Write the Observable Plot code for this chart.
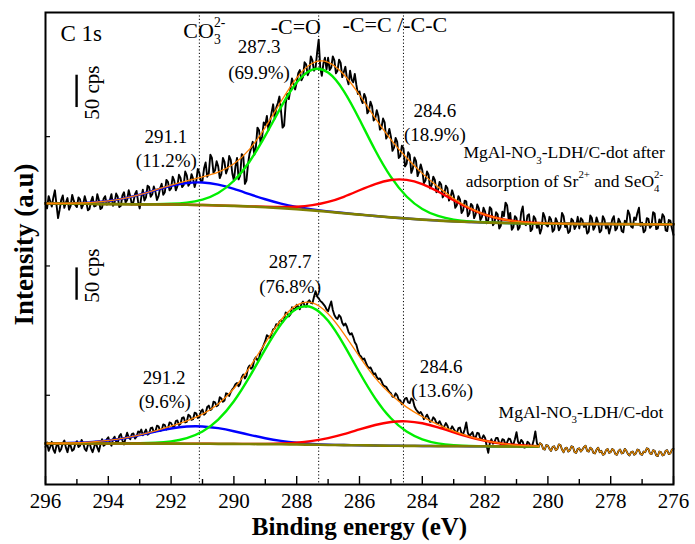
<!DOCTYPE html>
<html>
<head>
<meta charset="utf-8">
<script src="https://cdn.jsdelivr.net/npm/d3@7"></script>
<script src="https://cdn.jsdelivr.net/npm/@observablehq/plot@0.6"></script>
<style>
  html, body { margin: 0; padding: 0; background: #fff; }
  #chart { width: 695px; height: 544px; }
  #chart svg, #chart svg text { font-family: "Liberation Serif", "Times New Roman", Times, serif !important; }
</style>
</head>
<body>
<div id="chart"></div>
<script>
// C 1s XPS spectra of MgAl-NO3-LDH/C-dot, before (lower) and after (upper)
// adsorption of Sr2+ and SeO4 2-, with their peak fits.

// Raw counts sampled every 0.05 eV from 296.00 eV down to 276.00 eV (one row = 1 eV).
const rawStart = 296.0;
const rawStep = 0.05;

const upperCounts = [
  436, 427, 446, 438, 430, 444, 455, 433, 412, 425, 440, 447, 428, 436, 443, 425, 431, 448, 439, 432,
  429, 444, 441, 427, 433, 446, 437, 424, 426, 438, 445, 430, 431, 449, 440, 426, 428, 442, 446, 433,
  434, 440, 449, 431, 436, 450, 445, 429, 431, 447, 452, 436, 440, 455, 446, 433, 437, 449, 454, 437,
  427, 444, 456, 439, 444, 462, 460, 445, 449, 461, 453, 440, 446, 458, 465, 448, 452, 471, 468, 455,
  458, 476, 470, 455, 461, 479, 474, 460, 463, 484, 478, 462, 466, 480, 473, 460, 469, 488, 482, 468,
  470, 489, 498, 476, 481, 510, 505, 482, 486, 500, 492, 474, 480, 505, 499, 481, 488, 508, 502, 481,
  470, 492, 505, 472, 478, 511, 508, 465, 470, 496, 512, 520, 530, 510, 522, 552, 548, 528, 538, 560,
  556, 570, 548, 561, 575, 588, 566, 583, 590, 600, 578, 552, 555, 589, 604, 596, 612, 628, 620, 611,
  622, 636, 641, 625, 630, 653, 650, 633, 639, 662, 656, 640, 644, 668, 688, 645, 632, 651, 660, 642,
  660, 641, 645, 662, 656, 636, 640, 657, 652, 630, 638, 646, 628, 619, 640, 626, 622, 635, 618, 604,
  608, 596, 590, 604, 598, 574, 578, 592, 585, 563, 566, 579, 570, 549, 552, 566, 560, 535, 540, 550,
  538, 516, 521, 536, 530, 505, 508, 524, 520, 492, 496, 514, 510, 482, 489, 506, 500, 477, 484, 495,
  486, 466, 470, 484, 479, 458, 463, 476, 471, 452, 455, 468, 464, 444, 449, 462, 458, 439, 444, 455,
  447, 428, 432, 446, 441, 420, 424, 439, 438, 415, 419, 434, 431, 412, 418, 433, 427, 409, 414, 428,
  422, 404, 409, 429, 426, 401, 405, 421, 418, 396, 400, 422, 415, 436, 432, 410, 420, 394, 398, 415,
  412, 394, 398, 421, 430, 404, 401, 416, 418, 392, 395, 415, 411, 397, 403, 388, 396, 420, 414, 401,
  399, 414, 410, 391, 394, 412, 406, 393, 398, 420, 415, 398, 401, 389, 392, 411, 408, 395, 400, 414,
  396, 412, 409, 398, 403, 388, 391, 416, 412, 394, 399, 413, 405, 390, 393, 415, 410, 396, 402, 388,
  398, 410, 415, 393, 396, 411, 406, 392, 390, 408, 404, 424, 418, 399, 397, 413, 409, 420, 428, 400,
  405, 390, 393, 412, 411, 397, 400, 421, 419, 395, 396, 410, 403, 418, 414, 393, 392, 409, 408, 396,
  386
];

const lowerCounts = [
  58, 65, 52, 58, 66, 54, 49, 60, 62, 51, 55, 64, 68, 57, 50, 61, 60, 52, 54, 63,
  67, 58, 60, 69, 64, 55, 52, 61, 65, 56, 50, 58, 66, 57, 51, 62, 70, 60, 62, 70,
  73, 65, 60, 70, 74, 66, 64, 75, 78, 68, 62, 72, 80, 73, 70, 78, 79, 71, 74, 82,
  80, 85, 76, 80, 85, 77, 79, 87, 88, 81, 82, 91, 90, 83, 84, 93, 92, 85, 87, 96,
  95, 90, 89, 98, 99, 92, 94, 103, 104, 96, 97, 108, 106, 100, 101, 111, 110, 103, 104, 113,
  116, 108, 110, 120, 122, 115, 117, 128, 127, 121, 123, 135, 133, 128, 130, 141, 140, 137, 143, 147,
  150, 155, 157, 152, 156, 166, 170, 164, 168, 180, 184, 179, 182, 193, 197, 192, 195, 206, 210, 216,
  222, 231, 229, 227, 233, 240, 241, 248, 246, 252, 254, 251, 256, 266, 265, 260, 263, 274, 272, 270,
  278, 275, 271, 279, 283, 277, 275, 282, 285, 281, 280, 290, 299, 291, 288, 284, 282, 279, 276, 271,
  268, 276, 283, 270, 262, 258, 256, 262, 259, 250, 246, 249, 244, 236, 232, 234, 228, 220, 216, 207,
  200, 198, 193, 195, 189, 183, 180, 181, 176, 170, 172, 166, 163, 164, 160, 154, 152, 151, 147, 143,
  141, 136, 135, 141, 138, 131, 130, 124, 127, 133, 134, 127, 126, 133, 131, 121, 116, 113, 110, 112,
  108, 101, 104, 108, 103, 97, 98, 104, 101, 95, 94, 98, 93, 87, 90, 95, 91, 84, 85, 90,
  86, 82, 80, 87, 88, 79, 78, 85, 96, 80, 75, 78, 81, 72, 73, 80, 79, 70, 71, 76,
  72, 60, 49, 64, 70, 63, 66, 72, 72, 64, 63, 70, 69, 61, 65, 71, 70, 63, 62, 70,
  81, 66, 62, 69, 66, 57, 58, 66, 64, 58, 60, 69, 82, 64, 58, 64, 62, 55, 54, 61,
  60, 55, 52, 58, 59, 53, 55, 62, 61, 54, 50, 56, 57, 51, 53, 59, 58, 50, 49, 55,
  56, 51, 54, 58, 60, 52, 51, 57, 55, 49, 48, 54, 57, 50, 52, 46, 47, 53, 55, 49,
  50, 55, 53, 47, 46, 52, 54, 48, 49, 55, 52, 47, 45, 50, 51, 46, 48, 54, 53, 47,
  46, 51, 50, 56, 55, 48, 47, 53, 52, 45, 44, 51, 50, 45, 46, 52, 53, 47, 48, 54,
  55
];

// Fitted curves, sampled every 0.5 eV.
const fitEnergy = [
  296, 295.5, 295, 294.5, 294, 293.5, 293, 292.5, 292, 291.5,
  291, 290.5, 290, 289.5, 289, 288.5, 288, 287.5, 287, 286.5,
  286, 285.5, 285, 284.5, 284, 283.5, 283, 282.5, 282, 281.5,
  281, 280.5, 280, 279.5, 279, 278.5, 278, 277.5, 277, 276.5,
  276
];
const upperBackground = [
  434.6, 434.4, 434.2, 434.0, 433.8, 433.6, 433.4, 433.2, 433.0, 432.6,
  432.2, 431.6, 430.9, 430.0, 428.9, 427.5, 425.8, 423.9, 421.8, 419.6,
  417.4, 415.2, 413.2, 411.3, 409.6, 408.2, 407.0, 406.0, 405.2, 404.6,
  404.1, 403.7, 403.4, 403.2, 403.0, 402.9, 402.8, 402.7, 402.6, 402.5,
  402.4
];
// peak contributions above the background
const upperCO3 = [
  0.1, 0.4, 0.9, 2.2, 4.7, 8.9, 14.8, 22.0, 28.9, 33.7,
  34.9, 32.1, 26.2, 19.0, 12.3, 7.0, 3.6, 1.6, 0.6, 0.2,
  0.1, 0, 0, 0, 0, 0, 0, 0, 0, 0,
  0, 0, 0, 0, 0, 0, 0, 0, 0, 0,
  0
];
const upperCO = [
  0, 0, 0, 0, 0, 0, 0.1, 0.4, 1.1, 3.3,
  8.5, 19.3, 38.9, 69.6, 110.6, 156.2, 195.8, 217.9, 215.3, 188.9,
  147.2, 101.8, 62.5, 34.1, 16.5, 7.1, 2.7, 0.9, 0.3, 0.1,
  0, 0, 0, 0, 0, 0, 0, 0, 0, 0,
  0
];
const upperCC = [
  0, 0, 0, 0, 0, 0, 0, 0, 0, 0,
  0, 0, 0.1, 0.2, 0.6, 1.6, 3.8, 8.1, 15.3, 25.4,
  37.7, 49.5, 57.8, 59.9, 55.1, 45.0, 32.6, 21.0, 12.0, 6.1,
  2.8, 1.1, 0.4, 0.1, 0, 0, 0, 0, 0, 0,
  0
];

const lowerFitEnergy = [
  296, 295.5, 295, 294.5, 294, 293.5, 293, 292.5, 292, 291.5,
  291, 290.5, 290, 289.5, 289, 288.5, 288, 287.5, 287, 286.5,
  286, 285.5, 285, 284.5, 284, 283.5, 283, 282.5, 282, 281.5,
  281, 280.5, 280.3
];
const lowerBackground = [
  63.4, 63.4, 63.4, 63.4, 63.4, 63.3, 63.3, 63.2, 63.2, 63.1,
  63.0, 62.9, 62.8, 62.6, 62.4, 62.2, 61.9, 61.6, 61.2, 60.9,
  60.6, 60.3, 60.0, 59.8, 59.6, 59.4, 59.3, 59.2, 59.1, 59.0,
  58.9, 58.8, 58.8
];
const lowerCO3 = [
  0.2, 0.4, 1.1, 2.4, 4.7, 8.3, 13.1, 18.6, 23.4, 26.5,
  26.8, 24.2, 19.6, 14.2, 9.2, 5.3, 2.8, 1.3, 0.5, 0.2,
  0.1, 0, 0, 0, 0, 0, 0, 0, 0, 0,
  0, 0, 0
];
const lowerCO = [
  0, 0, 0, 0, 0, 0.1, 0.4, 1.3, 3.5, 8.7,
  19.0, 37.5, 66.0, 104.2, 147.0, 185.6, 209.8, 212.1, 191.9, 155.4,
  112.6, 73.0, 42.4, 22.0, 10.2, 4.2, 1.6, 0.5, 0.2, 0,
  0, 0, 0
];
const lowerCC = [
  0, 0, 0, 0, 0, 0, 0, 0, 0, 0,
  0, 0, 0.1, 0.2, 0.5, 1.3, 2.9, 5.9, 10.6, 17.0,
  24.6, 31.7, 36.7, 37.9, 35.1, 29.0, 21.5, 14.3, 8.5, 4.5,
  2.1, 0.9, 0.6
];

const peakPositions = [291.1, 287.3, 284.6];
const xTicks = [296, 294, 292, 290, 288, 286, 284, 282, 280, 278, 276];
const xMinorTicks = [295, 293, 291, 289, 287, 285, 283, 281, 279, 277];
const yTicks = [138, 338, 538];
const scaleBarCps = 50;

// ---- tables ----
const energyAt = (i) => Math.round((rawStart - i * rawStep) * 100) / 100;
const upperRaw = upperCounts.map((c, i) => ({e: energyAt(i), c}));
const lowerRaw = lowerCounts.map((c, i) => ({e: energyAt(i), c}));
const fitWindowEnd = lowerFitEnergy[lowerFitEnergy.length - 1];
const lowerOutside = lowerRaw.filter((d) => d.e <= fitWindowEnd + 1e-9);

const onBackground = (energy, bg, peak) => energy.map((e, i) => ({e, v: bg[i] + peak[i]}));
const envelope = (energy, bg, peaks) =>
  energy.map((e, i) => ({e, v: bg[i] + peaks.reduce((s, p) => s + p[i], 0)}));

const upper = {
  bg: onBackground(fitEnergy, upperBackground, fitEnergy.map(() => 0)),
  co3: onBackground(fitEnergy, upperBackground, upperCO3),
  co: onBackground(fitEnergy, upperBackground, upperCO),
  cc: onBackground(fitEnergy, upperBackground, upperCC),
  sum: envelope(fitEnergy, upperBackground, [upperCO3, upperCO, upperCC])
};
const lower = {
  bg: onBackground(lowerFitEnergy, lowerBackground, lowerFitEnergy.map(() => 0)),
  co3: onBackground(lowerFitEnergy, lowerBackground, lowerCO3),
  co: onBackground(lowerFitEnergy, lowerBackground, lowerCO),
  cc: onBackground(lowerFitEnergy, lowerBackground, lowerCC),
  sum: envelope(lowerFitEnergy, lowerBackground, [lowerCO3, lowerCO, lowerCC])
};

const GREEN = "#00ee00", BLUE = "#0000ff", RED = "#ff0000", ORANGE = "#ff8000", OLIVE = "#808000";
const curve = "natural";
const fitLine = (data, stroke, strokeWidth = 2.4) =>
  Plot.line(data, {x: "e", y: "v", stroke, strokeWidth, curve});

const noText = () => "";
const serif = "'Liberation Serif', 'Times New Roman', Times, serif";

// peak annotations: energy / intensity anchors for each line of text
const peakNotes = [
  {e: 289.2, v: 677, t: "287.3"}, {e: 289.2, v: 636, t: "(69.9%)"},
  {e: 292.17, v: 537, t: "291.1"}, {e: 292.15, v: 501, t: "(11.2%)"},
  {e: 283.6, v: 578, t: "284.6"}, {e: 283.6, v: 540, t: "(18.9%)"},
  {e: 288.21, v: 345, t: "287.7"}, {e: 288.21, v: 306, t: "(76.8%)"},
  {e: 292.22, v: 165, t: "291.2"}, {e: 292.2, v: 128, t: "(9.6%)"},
  {e: 283.4, v: 182, t: "284.6"}, {e: 283.37, v: 144, t: "(13.6%)"}
];
const bondNotes = [
  {e: 291.61, v: 702, t: "CO{_3}{^2-}"},
  {e: 288.83, v: 708, t: "-C=O"},
  {e: 286.54, v: 710, t: "-C=C /-C-C"}
];
const sampleNotes = [
  {e: 282.69, v: 513, t: "MgAl-NO{_3}-LDH/C-dot after"},
  {e: 282.62, v: 469, t: "adsorption of Sr{^2+} and SeO{_4}{^2-}"},
  {e: 281.57, v: 112, t: "MgAl-NO{_3}-LDH/C-dot"}
];
const scaleBars = [
  {e: 295.01, v1: 583, v2: 583 + scaleBarCps, label: 606},
  {e: 295.01, v1: 285, v2: 285 + scaleBarCps, label: 323}
];

const chart = Plot.plot({
  width: 695,
  height: 544,
  marginLeft: 45,
  marginRight: 22,
  marginTop: 12,
  marginBottom: 60,
  style: {fontFamily: serif, background: "#fff", color: "#000"},
  x: {domain: [296, 276], label: null},
  y: {domain: [0, 730], label: null},
  marks: [
    Plot.ruleX(peakPositions, {stroke: "#000", strokeWidth: 1, strokeDasharray: "1.2,2.2"}),

    // measured spectra
    Plot.line(upperRaw, {x: "e", y: "c", stroke: "#000", strokeWidth: 1.9}),
    Plot.line(lowerRaw, {x: "e", y: "c", stroke: "#000", strokeWidth: 1.9}),

    // fitted components
    fitLine(upper.co3, BLUE), fitLine(upper.co, GREEN), fitLine(upper.cc, RED),
    fitLine(lower.co3, BLUE), fitLine(lower.co, GREEN), fitLine(lower.cc, RED),
    fitLine(upper.bg, OLIVE, 2.6), fitLine(lower.bg, OLIVE, 2.6),

    // envelopes
    fitLine(upper.sum, ORANGE, 1.3),
    fitLine(lower.sum, ORANGE, 1.3),
    Plot.line(lowerOutside, {x: "e", y: "c", stroke: "#e88a00", strokeWidth: 1.2}),

    // 50 cps scale bars
    Plot.ruleX(scaleBars, {x: "e", y1: "v1", y2: "v2", stroke: "#000", strokeWidth: 2.4}),
    Plot.text(scaleBars, {x: () => 294.52, y: "label", text: () => `${scaleBarCps} cps`,
      rotate: -90, fontSize: 21, fontFamily: serif, fill: "#000"}),

    Plot.frame({stroke: "#000", strokeWidth: 2}),

    // axes
    Plot.axisX(xTicks, {tickSize: -8, tickFormat: noText, strokeWidth: 1.4}),
    Plot.axisX(xMinorTicks, {tickSize: -5, tickFormat: noText, strokeWidth: 1.4}),
    Plot.axisX(xTicks, {tickSize: 0, tickPadding: 9, fontSize: 21, fontFamily: serif, fill: "#000"}),
    Plot.axisY(yTicks, {tickSize: -5, tickFormat: noText, strokeWidth: 1.2}),
    Plot.text(["Binding energy (eV)"], {frameAnchor: "bottom", lineAnchor: "middle", textAnchor: "middle",
      dy: 42, text: (d) => d, fontSize: 25, fontWeight: "bold", fontFamily: serif, fill: "#000"}),
    Plot.text(["Intensity (a.u)"], {frameAnchor: "left", lineAnchor: "middle", textAnchor: "middle",
      dx: -21, dy: -4, rotate: -90, text: (d) => d, fontSize: 27, fontWeight: "bold",
      fontFamily: serif, fill: "#000"}),

    // annotations
    Plot.text(["C 1s"], {frameAnchor: "top-left", lineAnchor: "middle", textAnchor: "start",
      dx: 15, dy: 21, text: (d) => d, fontSize: 23, fontFamily: serif, fill: "#000"}),
    Plot.text(bondNotes, {x: "e", y: "v", text: "t", textAnchor: "start", fontSize: 22,
      fontFamily: serif, fill: "#000"}),
    Plot.text(peakNotes, {x: "e", y: "v", text: "t", fontSize: 19, fontFamily: serif, fill: "#000"}),
    Plot.text(sampleNotes, {x: "e", y: "v", text: "t", textAnchor: "start", fontSize: 17.5,
      fontFamily: serif, fill: "#000"})
  ]
});

document.getElementById("chart").append(chart);

// Turn {_x} and {^x} markup into subscript / superscript tspans.
const SVGNS = "http://www.w3.org/2000/svg";
d3.select(chart).selectAll("text").each(function () {
  const raw = this.textContent;
  if (!/\{[_^]/.test(raw)) return;
  const fs = parseFloat(getComputedStyle(this).fontSize) || 16;
  this.textContent = "";
  const re = /\{([_^])([^}]*)\}|([^{]+)/g;
  let m, shift = 0, prevSub = null;
  while ((m = re.exec(raw))) {
    const ts = document.createElementNS(SVGNS, "tspan");
    let target;
    if (m[3] !== undefined) {
      target = 0;
      ts.textContent = m[3];
      prevSub = null;
    } else {
      target = m[1] === "_" ? 0.3 * fs : -0.5 * fs;
      ts.textContent = m[2];
      ts.setAttribute("font-size", (0.62 * fs).toFixed(2));
      if (m[1] === "^" && prevSub) ts.setAttribute("dx", (-prevSub.getComputedTextLength()).toFixed(2));
    }
    if (target !== shift) ts.setAttribute("dy", (target - shift).toFixed(2));
    shift = target;
    this.appendChild(ts);
    if (m[1] === "_") prevSub = ts;
  }
});
</script>
</body>
</html>
